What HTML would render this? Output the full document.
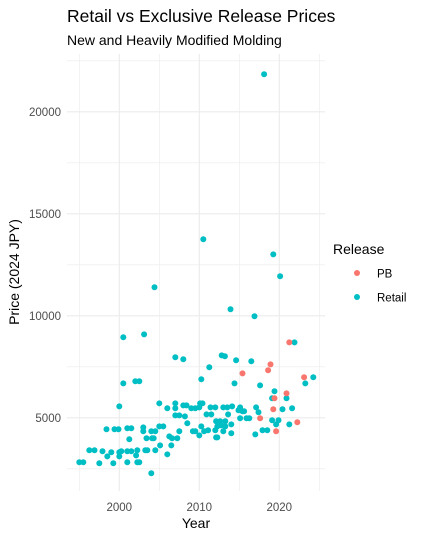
<!DOCTYPE html>
<html><head><meta charset="utf-8"><style>
body{margin:0;background:#fff;font-family:"Liberation Sans",sans-serif}
svg{display:block}
</style></head><body>
<svg id="chart" width="424" height="538">
<g id="grid"></g>
<g id="pts"></g>
<g id="axes"></g>
<text x="67" y="22" font-size="17.5" fill="#000">Retail vs Exclusive Release Prices</text>
<text x="67" y="45" font-size="14" fill="#000">New and Heavily Modified Molding</text>
<text x="196" y="528" font-size="14" text-anchor="middle" fill="#000">Year</text>
<text transform="translate(19,272) rotate(-90)" font-size="14" text-anchor="middle" fill="#000">Price (2024 JPY)</text>
<text x="333" y="254" font-size="14" fill="#000">Release</text>
<g><circle cx="357" cy="273" r="3" fill="#F8766D"/><text x="377" y="277.5" font-size="11.5" fill="#000">PB</text></g>
<g><circle cx="357" cy="297" r="3" fill="#00BFC4"/><text x="377" y="301.5" font-size="11.5" fill="#000">Retail</text></g>
</svg>
<script>
const retailYears=[2000.5,2003.1,2007.0,2008.0,2000.5,2002.0,2002.5,2000.0,2005.0,2006.0,2007.0,2007.0,2008.0,2008.4,2009.0,2009.5,2007.0,2007.5,2008.2,2008.5,1998.4,1999.4,1999.9,2001.0,2001.5,2003.0,2003.0,2005.0,2005.5,2004.0,2004.5,2007.5,2009.2,2009.5,2001.25,2003.4,2004.1,2004.3,2006.25,2006.6,2007.25,2005.1,2006.5,1996.25,1996.9,1997.9,1999.0,1998.5,2000.0,2000.25,2001.0,2001.5,2002.25,2000.0,2002.1,2003.25,2003.5,2004.5,2006.0,1995.0,1995.5,1997.5,1999.25,2001.0,2002.25,2002.5,2004.0,
2021.9,2012.8,2013.2,2014.6,2016.5,2011.25,2024.25,2010.25,2023.25,2014.4,2017.6,2019.4,2019.1,2020.9,2010.1,2010.4,2010.0,2011.4,2012.0,2013.0,2013.5,2014.1,2015.1,2014.9,2015.4,2015.6,2017.1,2017.4,2020.4,2021.6,2010.9,2011.5,2013.6,2015.1,2015.9,2016.25,2012.1,2012.6,2013.25,2019.1,2019.9,2019.6,2021.25,2010.25,2012.25,2012.75,2013.25,2014.0,2010.6,2011.1,2012.0,2013.0,2010.0,2014.0,2017.0,2017.9,2018.5,2012.1,2012.25,
2018.1,2010.5,2019.25,2020.1,2004.4,2013.9,2016.9];
const retailPrices=[8950,9090,7970,7870,6690,6790,6790,5560,5710,5470,5710,5470,5610,5610,5470,5470,5120,5120,5070,4730,4440,4440,4440,4490,4490,4530,4340,4580,4580,4340,4340,4340,4340,4340,3950,4000,4000,4000,4090,4000,4000,3650,3650,3410,3410,3360,3310,3110,3310,3360,3360,3360,3410,3110,3160,3410,3410,3410,3210,2820,2820,2770,2770,2820,2820,2820,2280,
8700,8060,8020,7820,7770,7480,6990,6890,6690,6690,6590,6300,5960,5960,5710,5710,5510,5510,5510,5510,5510,5560,5510,5370,5320,5320,5510,5270,5420,5470,5170,5170,5170,4980,4980,4980,4830,4830,4830,4880,4880,4680,4680,4580,4580,4630,4580,4680,4340,4390,4390,4340,4140,4240,4190,4390,4390,4040,4040,
21840,13750,13010,11940,11400,10320,9980];
const pbYears=[2021.25,2018.9,2018.6,2015.4,2023.1,2020.9,2019.4,2019.25,2017.6,2022.25,2019.6];
const pbPrices=[8700,7620,7330,7180,6990,6200,5960,5420,4980,4780,4340];
const xTicks=[2000,2010,2020];
const xMinor=[1995,2005,2015,2025];
const yTicks=[5000,10000,15000,20000];
const yMinor=[2500,7500,12500,17500,22500];

const L=67,R=325,T=54,B=491;
const sx=v=>119.3+(v-2000)*8;
const sy=v=>417.8-(v-5000)/49.02;
const NS="http://www.w3.org/2000/svg";
function mk(tag,attrs,parent){const e=document.createElementNS(NS,tag);for(const k in attrs)e.setAttribute(k,attrs[k]);parent.appendChild(e);return e;}
const grid=document.getElementById('grid'),pts=document.getElementById('pts'),axes=document.getElementById('axes');
xMinor.forEach(v=>{const l=mk('line',{x1:sx(v),x2:sx(v),y1:T,y2:B,stroke:'#ebebeb','stroke-width':0.6},grid);

});
yMinor.forEach(v=>{const l=mk('line',{x1:L,x2:R,y1:sy(v),y2:sy(v),stroke:'#ebebeb','stroke-width':0.6},grid);

});
xTicks.forEach(v=>{const l=mk('line',{x1:sx(v),x2:sx(v),y1:T,y2:B,stroke:'#ebebeb','stroke-width':1.1},grid);


const t=mk('text',{x:sx(v),y:511,'font-size':11.5,'text-anchor':'middle',fill:'#4d4d4d'},axes);t.textContent=v;

});
yTicks.forEach(v=>{const l=mk('line',{x1:L,x2:R,y1:sy(v),y2:sy(v),stroke:'#ebebeb','stroke-width':1.1},grid);


const t=mk('text',{x:61,y:sy(v)+4,'font-size':11.5,'text-anchor':'end',fill:'#4d4d4d'},axes);t.textContent=v;

});
retailYears.forEach((yr,i)=>{const c=mk('circle',{cx:sx(yr),cy:sy(retailPrices[i]),r:3,fill:'#00BFC4'},pts);

});
pbYears.forEach((yr,i)=>{const c=mk('circle',{cx:sx(yr),cy:sy(pbPrices[i]),r:3,fill:'#F8766D'},pts);

});
</script>
</body></html>
